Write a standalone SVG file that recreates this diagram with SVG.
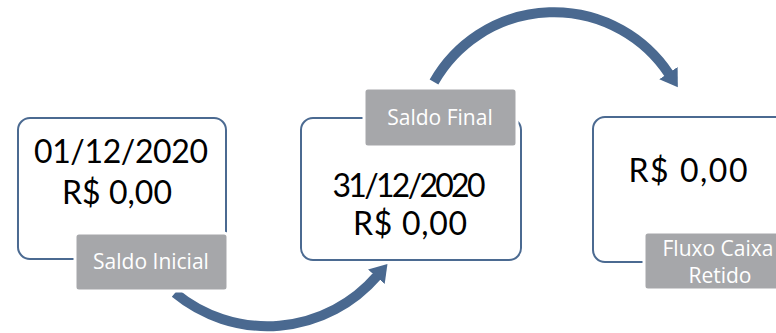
<svg xmlns="http://www.w3.org/2000/svg" width="776" height="333" viewBox="0 0 776 333">
<style>
.box{fill:#fff;stroke:#4b6a91;stroke-width:2}
.lbl{fill:#a6a7aa;stroke:#fff;stroke-width:3}
.big{font-family:Lato,"Open Sans",sans-serif;font-size:32px;fill:#000;text-anchor:middle}
.lt{font-family:"Open Sans","Noto Sans",sans-serif;font-size:21px;fill:#fff;text-anchor:middle}
.arc{fill:none;stroke:#4a6990;stroke-width:10}
</style>
<defs>
<marker id="ah" markerUnits="userSpaceOnUse" viewBox="0 -12 18 24" refX="1" refY="0" markerWidth="18" markerHeight="24" orient="auto">
<path d="M0,-11 L17,0 L0,11 Z" fill="#4a6990"/>
</marker>
</defs>
<g id="connectors">
<path class="arc" d="M175,293 A145 145 0 0 0 377,276" marker-end="url(#ah)"/>
<path class="arc" d="M434,82 A138 138 0 0 1 669,74" marker-end="url(#ah)"/>
</g>
<g id="node1">
<rect class="box" x="18" y="118" width="208" height="141" rx="12"/>
<text class="big" x="121" y="163" textLength="174">01/12/2020</text>
<text class="big" x="117" y="204" textLength="110">R$ 0,00</text>
<rect class="lbl" x="75" y="233" width="153" height="58" rx="4"/>
<text class="lt" x="151" y="269">Saldo Inicial</text>
</g>
<g id="node2">
<rect class="box" x="301" y="118" width="220" height="142" rx="12"/>
<text class="big" x="409" y="197" textLength="153">31/12/2020</text>
<text class="big" x="410" y="235" textLength="114">R$ 0,00</text>
<rect class="lbl" x="364" y="88" width="153" height="59" rx="4"/>
<text class="lt" x="440" y="125">Saldo Final</text>
</g>
<g id="node3">
<rect class="box" x="593" y="117" width="215" height="145" rx="12"/>
<text class="big" x="688" y="182" textLength="119">R$ 0,00</text>
<rect class="lbl" x="644" y="232" width="153" height="58" rx="4"/>
<text class="lt" x="718" y="256">Fluxo Caixa</text>
<text class="lt" x="720" y="283">Retido</text>
</g>
</svg>
